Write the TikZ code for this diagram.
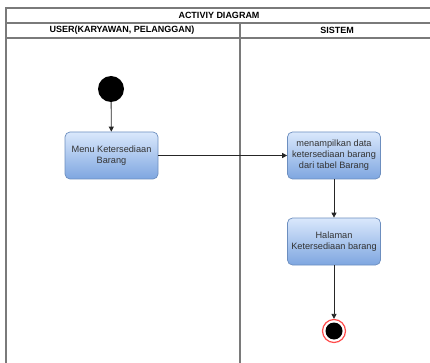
\documentclass[tikz,border=0pt]{standalone}
\usepackage{fontspec}
\setmainfont{Liberation Sans}
\usetikzlibrary{arrows.meta}
\definecolor{boxtop}{HTML}{DAE8FC}
\definecolor{boxbot}{HTML}{7EA6E0}
\definecolor{boxline}{HTML}{6C8EBF}
\definecolor{laneline}{HTML}{7A7A7A}
\tikzset{
  lane/.style={draw=laneline, line width=1.1pt},
  header/.style={font=\fontsize{9}{10}\selectfont\bfseries, inner sep=0pt},
  action/.style={rectangle, rounded corners=5pt, draw=boxline, line width=0.7pt,
    top color=boxtop, bottom color=boxbot, minimum width=93pt, minimum height=47pt,
    align=center, text=black!80, inner sep=1pt,
    font=\fontsize{9.2}{11}\selectfont},
  initial/.style={circle, fill=black, minimum size=26pt, inner sep=0pt},
  flow/.style={draw=black!85, line width=0.8pt, -{Triangle[length=5pt,width=5pt]}},
}
\begin{document}
\begin{tikzpicture}[x=1pt,y=-1pt]
\useasboundingbox (0,0) rectangle (430,363);
% swimlane frame
\draw[lane] (6,363) -- (6,8) -- (430,8);
\draw[lane] (6,23) -- (430,23);
\draw[lane] (6,38) -- (430,38);
\draw[lane] (240,23) -- (240,363);
\node[header] (title) at (219,15.5) {ACTIVIY DIAGRAM};
\node[header] (laneuser) at (122,30.5) {USER(KARYAWAN, PELANGGAN)};
\node[header] (lanesys) at (337,30.5) {SISTEM};
% activities
\node[initial] (start) at (111,89) {};
\node[action] (menu) at (111.5,155.5) {Menu Ketersediaan\\Barang};
\node[action] (data) at (334,155.5) {menampilkan data\\ketersediaan barang\\dari tabel Barang};
\node[action] (halaman) at (334,241.5) {Halaman\\Ketersediaan barang};
% final node
\node[circle, draw=red!70, line width=1.2pt, fill=white, minimum size=23pt, inner sep=0pt] (final) at (334,331) {};
\fill[black] (final.center) circle (8.5pt);
% flows
\draw[flow] (start) -- (menu);
\draw[flow] (menu) -- (data);
\draw[flow] (data) -- (halaman);
\draw[flow] (halaman) -- (final);
\end{tikzpicture}
\end{document}
